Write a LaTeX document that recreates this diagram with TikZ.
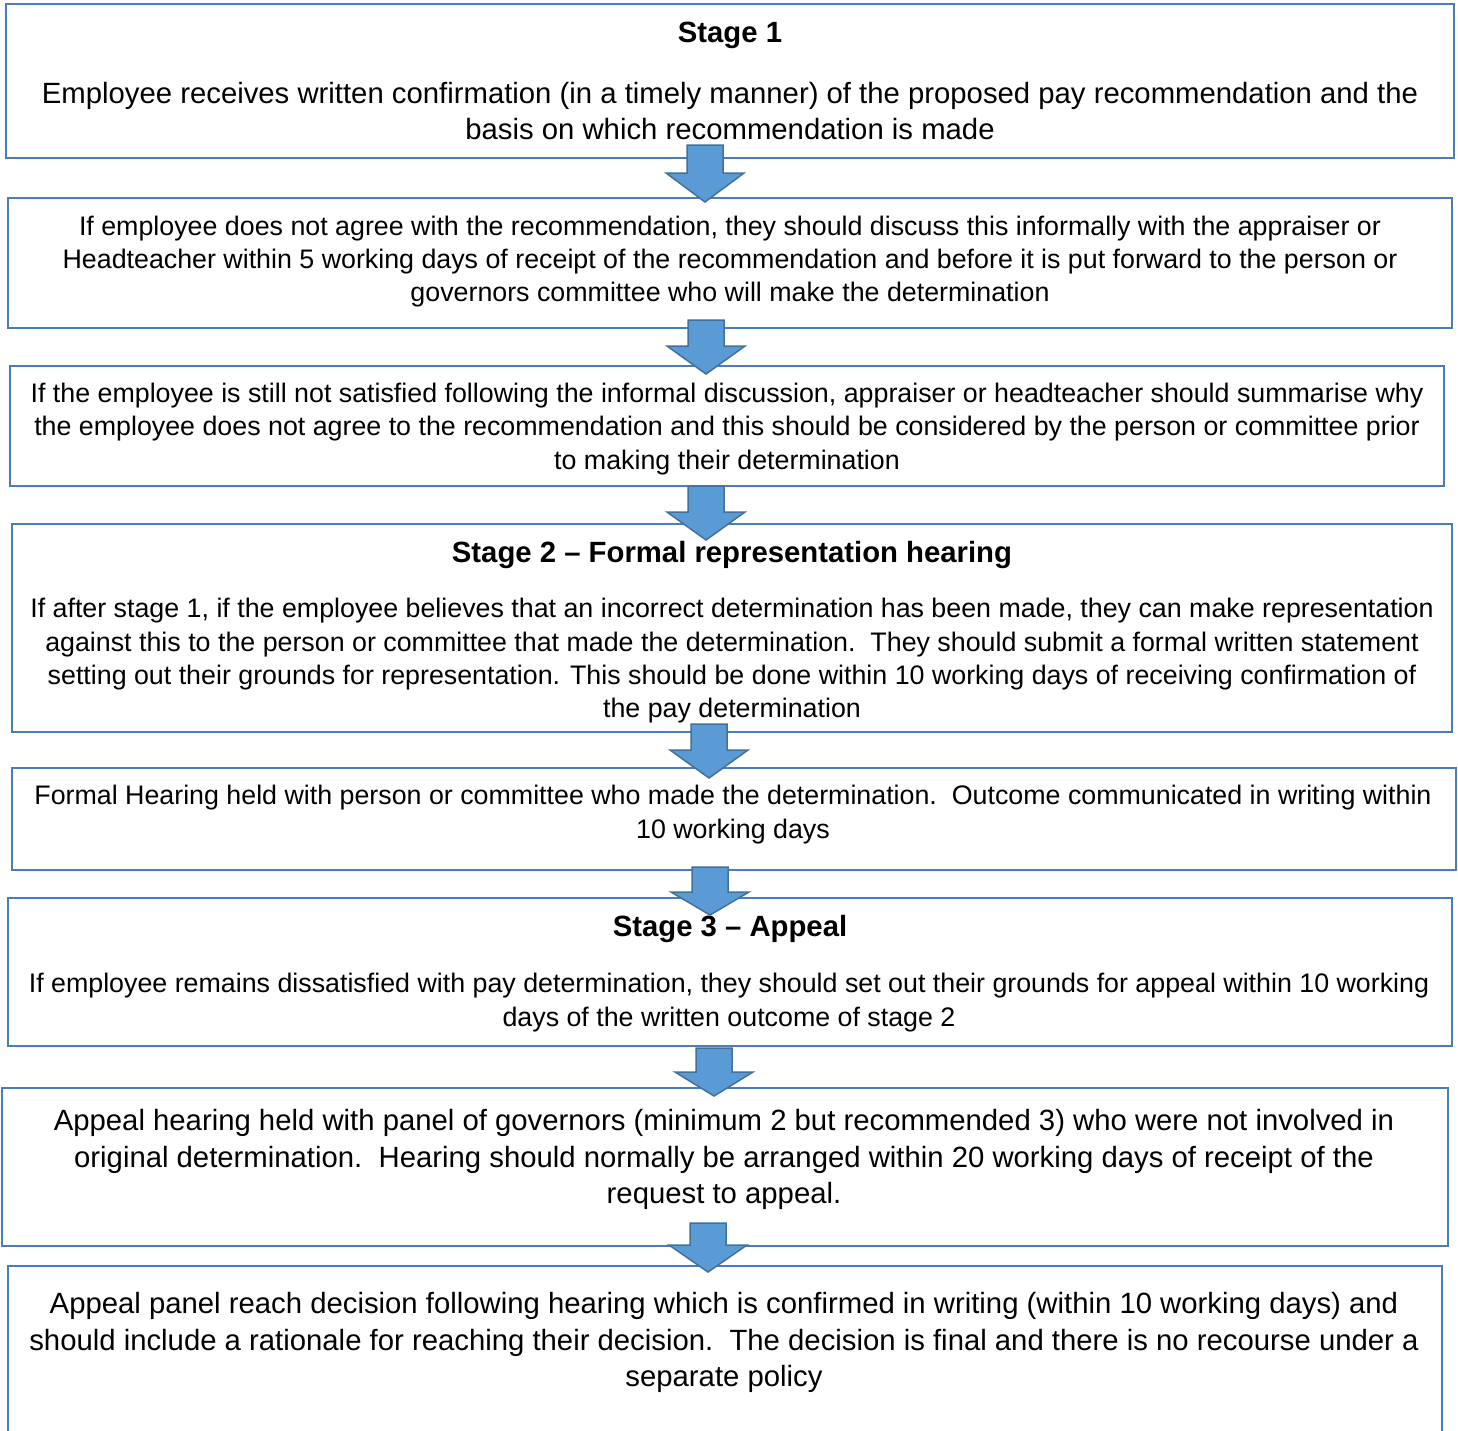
\documentclass[tikz,border=0pt]{standalone}
\usepackage{fontspec}
\setmainfont{Liberation Sans}
\definecolor{boxline}{RGB}{74,126,187}
\definecolor{arrfill}{RGB}{91,155,213}
\definecolor{arrline}{RGB}{65,113,156}
\tikzset{
 box/.style={draw=boxline, line width=2.5pt, rectangle, inner sep=0pt},
 txt/.style={align=center, font=\fontsize{26.8}{33.3}\selectfont, inner sep=0pt},
 bigtxt/.style={align=center, font=\fontsize{29.3}{36.5}\selectfont, inner sep=0pt},
 head/.style={font=\fontsize{29.3}{36}\selectfont\bfseries, inner sep=0pt},
 barrow/.style={fill=arrfill, draw=arrline, line width=1.5pt, line join=miter}
}
\newcommand\blockarr[4]{\draw[barrow] (#1-18,#2) -- (#1+18,#2) -- (#1+18,#3) -- (#1+39,#3) -- (#1,#4) -- (#1-39,#3) -- (#1-18,#3) -- cycle;}
\begin{document}
\begin{tikzpicture}[x=1pt,y=-1pt]
\useasboundingbox (0,0) rectangle (1458,1430);
\fill[white] (0,0) rectangle (1458,1430);
% boxes
\node[box, minimum width=1448pt, minimum height=154pt] (b1) at (730,81) {};
\node[box, minimum width=1444pt, minimum height=130pt] (b2) at (730,263) {};
\node[box, minimum width=1434pt, minimum height=120pt] (b3) at (727,426) {};
\node[box, minimum width=1440pt, minimum height=208pt] (b4) at (732,628) {};
\node[box, minimum width=1444pt, minimum height=102pt] (b5) at (734,819) {};
\node[box, minimum width=1444pt, minimum height=148pt] (b6) at (730,972) {};
\node[box, minimum width=1446pt, minimum height=158pt] (b7) at (725,1167) {};
\node[box, minimum width=1434pt, minimum height=184pt] (b8) at (725,1358) {};
% texts
\node[head] (h1) at (730,35) {Stage 1};
\node[bigtxt] (t1) at (730,111) {Employee receives written confirmation (in a timely manner) of the proposed pay recommendation and the\\basis on which recommendation is made};
\node[txt] (t2) at (730,261.5) {If employee does not agree with the recommendation, they should discuss this informally with the appraiser or\\Headteacher within 5 working days of receipt of the recommendation and before it is put forward to the person or\\governors committee who will make the determination};
\node[txt] (t3) at (727,429) {If the employee is still not satisfied following the informal discussion, appraiser or headteacher should summarise why\\the employee does not agree to the recommendation and this should be considered by the person or committee prior\\to making their determination};
\node[head] (h4) at (732,555) {Stage 2 – Formal representation hearing};
\node[txt] (t4) at (732,661) {If after stage 1, if the employee believes that an incorrect determination has been made, they can make representation\\against this to the person or committee that made the determination.\ \ They should submit a formal written statement\\setting out their grounds for representation. This should be done within 10 working days of receiving confirmation of\\the pay determination};
\node[txt] (t5) at (733,814.5) {Formal Hearing held with person or committee who made the determination.\ \ Outcome communicated in writing within\\10 working days};
\node[head] (h6) at (730,929) {Stage 3 – Appeal};
\node[txt] (t6) at (729,1002.5) {If employee remains dissatisfied with pay determination, they should set out their grounds for appeal within 10 working\\days of the written outcome of stage 2};
\node[bigtxt] (t7) at (724,1159.5) {Appeal hearing held with panel of governors (minimum 2 but recommended 3) who were not involved in\\original determination.\ \ Hearing should normally be arranged within 20 working days of receipt of the\\request to appeal.};
\node[bigtxt] (t8) at (724,1342.5) {Appeal panel reach decision following hearing which is confirmed in writing (within 10 working days) and\\should include a rationale for reaching their decision.\ \ The decision is final and there is no recourse under a\\separate policy};
% block arrows
\blockarr{705}{145}{173}{202}
\blockarr{706}{320}{346}{374}
\blockarr{706}{486}{512}{540}
\blockarr{709}{724}{750}{778}
\blockarr{710}{867}{892}{915}
\blockarr{714}{1048}{1072}{1096}
\blockarr{708}{1223}{1245}{1272}
\end{tikzpicture}
\end{document}
